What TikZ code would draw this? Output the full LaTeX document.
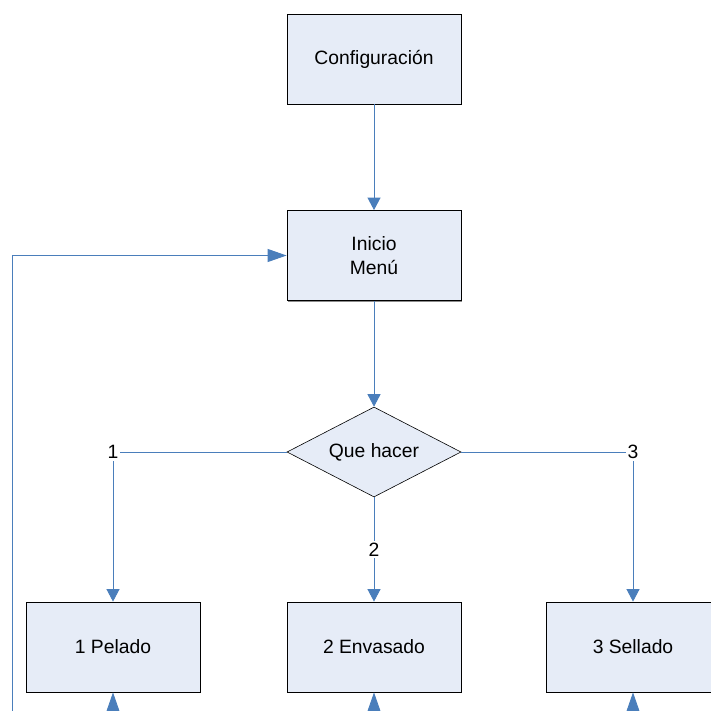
\documentclass[tikz,border=0pt]{standalone}
\usepackage{fontspec}
\setmainfont{Liberation Sans}
\usetikzlibrary{shapes.geometric,arrows.meta,shadows}
\definecolor{flowline}{HTML}{4A7EBB}
\definecolor{boxfill}{HTML}{E6ECF7}

\begin{document}
\begin{tikzpicture}[x=1pt,y=-1pt,
  every node/.style={font=\fontsize{19.3}{24}\selectfont},
  procbox/.style={draw=black, line width=0.8pt, fill=boxfill,
    minimum width=174pt, minimum height=90pt, align=center, inner sep=0pt,
    drop shadow={shadow xshift=1.2pt, shadow yshift=-1.2pt, fill=black!45, opacity=1}},
  decisionbox/.style={diamond, draw=black, line width=0.6pt, fill=boxfill,
    aspect=1.933, minimum width=174pt, minimum height=90pt, inner sep=0pt},
  flow/.style={draw=flowline, line width=0.9pt},
  flowarrow/.style={flow, -{Triangle[length=12.5pt,width=13pt]}},
  returnarrow/.style={flow, -{Triangle[length=19pt,width=13pt]}},
  branchlabel/.style={fill=white, inner sep=2pt}]

  \useasboundingbox (0,0) rectangle (711,711);
  \clip (0,0) rectangle (711,711);

  % process steps
  \node[procbox] (cfg)  at (374,59)  {Configuración};
  \node[procbox] (menu) at (374,255.5) {Inicio\\Menú};
  \node[decisionbox] (que) at (374,452) {Que hacer};
  \node[procbox] (pel) at (113,647) {1 Pelado};
  \node[procbox] (env) at (374,647) {2 Envasado};
  \node[procbox] (sel) at (633,647) {3 Sellado};

  % return paths entering from below the frame
  \coordinate (back0) at (12,740);
  \coordinate (back1) at (113,740);
  \coordinate (back2) at (374,740);
  \coordinate (back3) at (633,740);

  % main sequence
  \draw[flowarrow] (cfg.south) -- (menu.north);
  \draw[flowarrow] (menu.south) -- (que.north);

  % branches of the decision
  \draw[flowarrow] (que.west) -| node[branchlabel, pos=0.5] {1} (pel.north);
  \draw[flowarrow] (que.south) -- node[branchlabel, pos=0.5] {2} (env.north);
  \draw[flowarrow] (que.east) -| node[branchlabel, pos=0.5] {3} (sel.north);

  % returns to the steps and to the menu
  \draw[returnarrow] (back1) -- (pel.south);
  \draw[returnarrow] (back2) -- (env.south);
  \draw[returnarrow] (back3) -- (sel.south);
  \draw[returnarrow] (back0) |- (menu.west);
\end{tikzpicture}
\end{document}
